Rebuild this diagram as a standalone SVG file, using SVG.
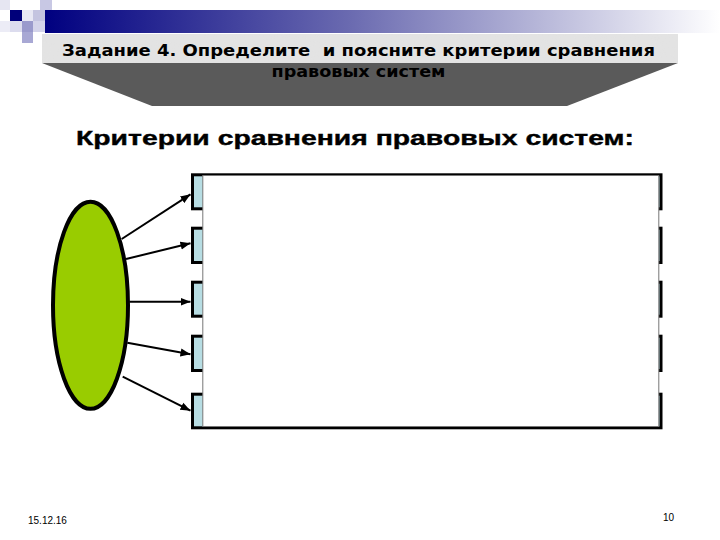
<svg xmlns="http://www.w3.org/2000/svg" width="720" height="540" viewBox="0 0 720 540">
<defs>
<linearGradient id="band" x1="0" y1="0" x2="1" y2="0">
<stop offset="0" stop-color="#000080"/>
<stop offset="0.45" stop-color="#6a6ab0"/>
<stop offset="1" stop-color="#ffffff"/>
</linearGradient>
<marker id="ah" viewBox="0 0 10 10" refX="10" refY="5" markerWidth="5" markerHeight="5" orient="auto" markerUnits="strokeWidth">
<path d="M0,1 L10,5 L0,9 Z" fill="#000"/>
</marker>
<filter id="grain" x="0" y="0" width="1" height="1">
<feTurbulence type="fractalNoise" baseFrequency="0.9" numOctaves="2" seed="3" result="n"/>
<feColorMatrix in="n" type="matrix" values="0 0 0 0 0.8  0 0 0 0 0.8  0 0 0 0 0.8  0 0 0 0.35 0" result="c"/>
<feComposite in="c" in2="SourceGraphic" operator="in" result="t"/>
<feMerge><feMergeNode in="SourceGraphic"/><feMergeNode in="t"/></feMerge>
</filter>
</defs>
<style>
.title{font-family:"DejaVu Sans","Noto Sans",sans-serif;font-weight:bold;font-size:16px;fill:#000}
.head{font-family:"Liberation Sans",Arial,sans-serif;font-weight:bold;font-size:21px;fill:#000;stroke:#000;stroke-width:0.4}
.foot{font-family:"Liberation Sans",Arial,sans-serif;font-size:10px;fill:#000}
.box{fill:#b7dde3;stroke:#000;stroke-width:3}
.conn line{stroke:#000;stroke-width:2;marker-end:url(#ah)}
</style>
<rect width="720" height="540" fill="#fff"/>
<g id="header">
<rect x="45" y="10" width="675" height="23" fill="url(#band)"/>
<rect x="0" y="0" width="10" height="10" fill="#e6e6f2"/>
<rect x="40" y="0" width="12" height="10" fill="#c8c8e4"/>
<rect x="10" y="10" width="12" height="11" fill="#00007a"/>
<rect x="22" y="10" width="11" height="11" fill="#e8e8f4"/>
<rect x="33" y="10" width="12" height="11" fill="#c4c4e0"/>
<rect x="0" y="21" width="10" height="11" fill="#ececf6"/>
<rect x="10" y="21" width="12" height="11" fill="#dcdcee"/>
<rect x="22" y="21" width="11" height="11" fill="#9a9acc"/>
<rect x="33" y="21" width="12" height="11" fill="#d4d4ea"/>
<rect x="22" y="32" width="11" height="11" fill="#a8a8d4"/>
</g>
<g id="banner">
<polygon points="42,63 678,63 567,106 152,106" fill="#5a5a5a"/>
<rect x="42" y="34" width="636" height="29" fill="#e2e2e2" filter="url(#grain)"/>
<text class="title" x="358.5" y="56" text-anchor="middle" textLength="593" lengthAdjust="spacingAndGlyphs">Задание 4. Определите&#160; и поясните критерии сравнения</text>
<text class="title" x="358.5" y="77" text-anchor="middle" textLength="174" lengthAdjust="spacingAndGlyphs">правовых систем</text>
</g>
<text id="heading" class="head" x="76" y="145" textLength="558" lengthAdjust="spacingAndGlyphs">Критерии сравнения правовых систем:</text>
<g id="criteria">
<rect id="box1" class="box" x="192.5" y="174.8" width="468.5" height="34"/>
<rect id="box2" class="box" x="192.5" y="228.2" width="468.5" height="34.3"/>
<rect id="box3" class="box" x="192.5" y="282.2" width="468.5" height="34"/>
<rect id="box4" class="box" x="192.5" y="336.2" width="468.5" height="34.3"/>
<rect id="box5" class="box" x="192.5" y="394.2" width="468.5" height="33.6"/>
<rect id="panel" x="202.8" y="175.5" width="456" height="251" fill="#fff" stroke="#777" stroke-width="1"/>
</g>
<g id="center">
<ellipse cx="90.5" cy="305.3" rx="37.5" ry="103.5" fill="#99cc00" stroke="#000" stroke-width="4"/>
</g>
<g class="conn" id="connectors">
<line x1="121.7" y1="239" x2="190.5" y2="194.3"/>
<line x1="126" y1="259" x2="190.5" y2="243.3"/>
<line x1="129.3" y1="301.7" x2="190.5" y2="301.7"/>
<line x1="127.3" y1="342.7" x2="190.5" y2="354.3"/>
<line x1="122.7" y1="376.7" x2="190.5" y2="410.7"/>
</g>
<text class="foot" x="28" y="524">15.12.16</text>
<text class="foot" x="663" y="521" font-size="11">10</text>
</svg>
